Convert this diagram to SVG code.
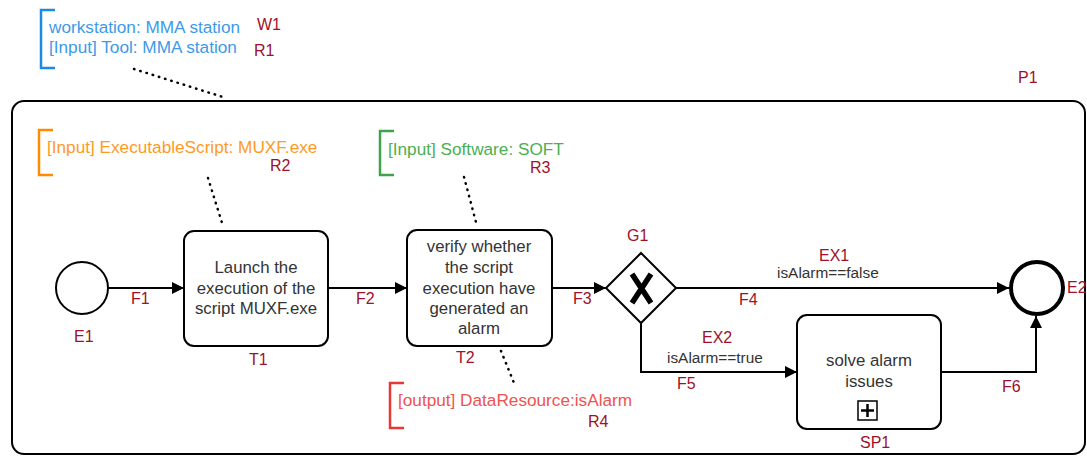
<svg xmlns="http://www.w3.org/2000/svg" width="1087" height="456" viewBox="0 0 1087 456">
<style>
.lbl{font-family:"Liberation Sans",Arial,sans-serif;font-size:16px;fill:#a0102a}
.txt{font-family:"Liberation Sans",Arial,sans-serif;font-size:16.8px;fill:#333333;text-anchor:middle}
.cond{font-family:"Liberation Sans",Arial,sans-serif;font-size:15.4px;fill:#333333}
.ann{font-family:"Liberation Sans",Arial,sans-serif;font-size:17.2px}
.task{fill:#ffffff;stroke:#000000;stroke-width:2}
.flow{fill:none;stroke:#000000;stroke-width:2}
.assoc{fill:none;stroke:#000000;stroke-width:2.5;stroke-dasharray:0.5 6;stroke-linecap:round}
.br{fill:none;stroke-width:2.5}
</style>
<defs>
<marker id="arr" markerWidth="14" markerHeight="14" refX="12" refY="6" orient="auto" markerUnits="userSpaceOnUse">
<path d="M0,0 L12,6 L0,12 Z" fill="#000000"/>
</marker>
</defs>

<g id="P1">
<rect x="12" y="101" width="1073" height="353" rx="12" fill="none" stroke="#000000" stroke-width="2"/>
<text class="lbl" x="1018" y="83">P1</text>
</g>

<g id="W1">
<path class="br" stroke="#1e88e5" d="M55,10 L41,10 L41,68 L55,68"/>
<text class="ann" fill="#3d9ae8" x="49" y="33">workstation: MMA station</text>
<text class="ann" fill="#3d9ae8" x="49" y="53">[Input] Tool: MMA station</text>
<text class="lbl" x="257" y="30">W1</text>
<text class="lbl" x="254" y="56">R1</text>
</g>

<g id="R2">
<path class="br" stroke="#ff8c00" d="M53,130 L39,130 L39,175 L53,175"/>
<text class="ann" fill="#ff9a1f" x="47" y="153">[Input] ExecutableScript: MUXF.exe</text>
<text class="lbl" x="270" y="171">R2</text>
</g>

<g id="R3">
<path class="br" stroke="#3fa34d" d="M394,131 L380,131 L380,175 L394,175"/>
<text class="ann" fill="#4caf50" x="388" y="155">[Input] Software: SOFT</text>
<text class="lbl" x="530" y="173">R3</text>
</g>

<g id="R4">
<path class="br" stroke="#e53935" d="M404,383 L390,383 L390,428 L404,428"/>
<text class="ann" fill="#ef5350" x="398" y="406">[output] DataResource:isAlarm</text>
<text class="lbl" x="588" y="427">R4</text>
</g>

<g id="E1">
<circle cx="82" cy="288" r="26" fill="#ffffff" stroke="#000000" stroke-width="2"/>
<text class="lbl" x="74" y="342">E1</text>
</g>

<g id="T1">
<rect class="task" x="184" y="231" width="144" height="115" rx="10"/>
<text class="txt" x="256" y="273">Launch the</text>
<text class="txt" x="256" y="294">execution of the</text>
<text class="txt" x="256" y="314">script MUXF.exe</text>
<text class="lbl" x="249" y="365">T1</text>
</g>

<g id="T2">
<rect class="task" x="407" y="230" width="145" height="116" rx="10"/>
<text class="txt" x="479" y="252">verify whether</text>
<text class="txt" x="479" y="273">the script</text>
<text class="txt" x="479" y="294">execution have</text>
<text class="txt" x="479" y="314">generated an</text>
<text class="txt" x="479" y="334">alarm</text>
<text class="lbl" x="456" y="363">T2</text>
</g>

<g id="G1">
<path d="M641,253 L676,288 L641,323 L606,288 Z" fill="#ffffff" stroke="#000000" stroke-width="2"/>
<path d="M632,274 L651,303 M651,274 L632,303" stroke="#000000" stroke-width="5.5" fill="none"/>
<text class="lbl" x="627" y="241">G1</text>
</g>

<g id="SP1">
<rect class="task" x="797" y="315" width="144" height="114" rx="10"/>
<text class="txt" x="869" y="366">solve alarm</text>
<text class="txt" x="869" y="387">issues</text>
<rect x="858" y="401" width="19" height="19" fill="#ffffff" stroke="#000000" stroke-width="1.5"/>
<path d="M867.5,404 L867.5,417 M861,410.5 L874,410.5" stroke="#000000" stroke-width="2.5"/>
<text class="lbl" x="860" y="448">SP1</text>
</g>

<g id="E2">
<circle cx="1037" cy="288" r="26" fill="#ffffff" stroke="#000000" stroke-width="4"/>
<text class="lbl" x="1067" y="293">E2</text>
</g>

<g id="connectors">
<path class="assoc" d="M134,69 L226,98"/>
<path class="assoc" d="M208,178 L223,226"/>
<path class="assoc" d="M464,177 L477,226"/>
<path class="assoc" d="M501,351 L514,383"/>

<path class="flow" marker-end="url(#arr)" d="M108,288 L184,288"/>
<text class="lbl" x="131" y="304">F1</text>
<path class="flow" marker-end="url(#arr)" d="M328,288 L407,288"/>
<text class="lbl" x="356" y="304">F2</text>
<path class="flow" marker-end="url(#arr)" d="M552,288 L606,288"/>
<text class="lbl" x="573" y="304">F3</text>
<path class="flow" marker-end="url(#arr)" d="M676,288 L1009,288"/>
<text class="lbl" x="819" y="261">EX1</text>
<text class="cond" x="777" y="278">isAlarm==false</text>
<text class="lbl" x="739" y="305">F4</text>
<path class="flow" marker-end="url(#arr)" d="M641,323 L641,372 L797,372"/>
<text class="lbl" x="702" y="343">EX2</text>
<text class="cond" x="667" y="363">isAlarm==true</text>
<text class="lbl" x="677" y="389">F5</text>
<path class="flow" marker-end="url(#arr)" d="M941,372 L1036,372 L1036,316"/>
<text class="lbl" x="1002" y="392">F6</text>
</g>
</svg>
